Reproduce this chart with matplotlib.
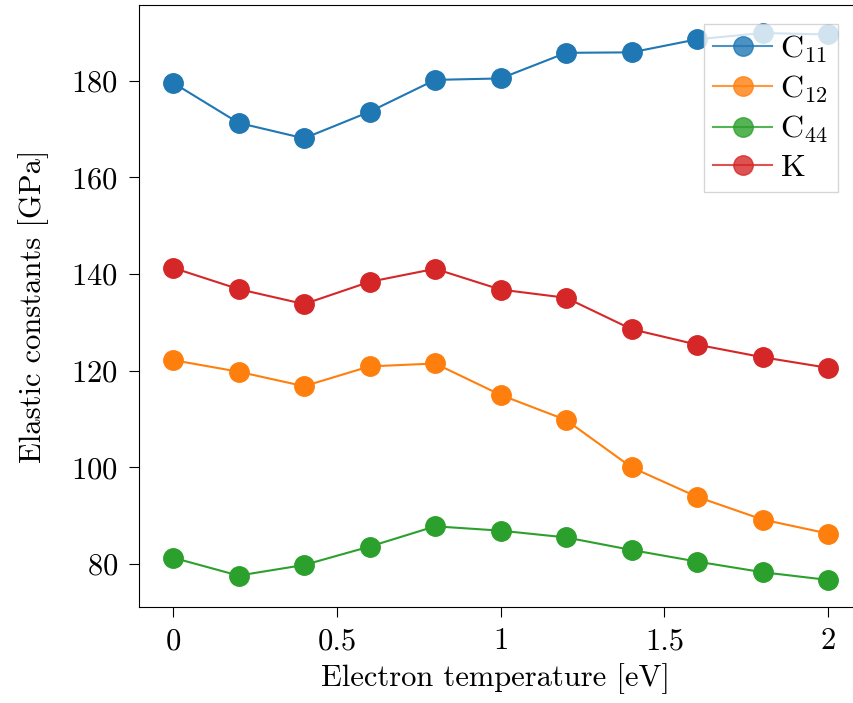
import numpy as np
import matplotlib
matplotlib.use("Agg")
import matplotlib.pyplot as plt

plt.rcParams['font.family'] = 'cmr10'
plt.rcParams['mathtext.fontset'] = 'cm'
plt.rcParams['axes.formatter.use_mathtext'] = True

# Données
temperature = [0, 0.2, 0.4, 0.6, 0.8, 1.0, 1.2, 1.4, 1.6, 1.8, 2.0]
C11 = [179.6, 171.3, 168.1, 173.6, 180.2, 180.5, 185.8, 185.9, 188.6, 189.9, 189.6]
C12 = [122.2, 119.8, 116.8, 120.9, 121.5, 115.0, 109.8, 100.0, 93.9, 89.2, 86.3]
C44 = [81.3, 77.6, 79.8, 83.6, 87.8, 86.9, 85.5, 82.9, 80.5, 78.3, 76.7]
K = [141.3, 136.9, 133.8, 138.4, 141.1, 136.8, 135.1, 128.6, 125.4, 122.8, 120.6]
labels = [r'$\mathrm{C}_{11}$', r'$\mathrm{C}_{12}$', r'$\mathrm{C}_{44}$', r'$\mathrm{K}$']

fig = plt.figure(figsize=(8.54, 7.03), dpi=100)
ax = fig.add_axes([139/854, 1-607/703, (853-139)/854, (607-5)/703])

for serie, lab in zip([C11, C12, C44, K], labels):
    ax.plot(temperature, serie, '-o', ms=14, lw=1.5, label=lab)

ax.set_xlim(-0.104, 2.076)
ax.set_ylim(71.1, 195.7)
ax.set_xticks([0, 0.5, 1, 1.5, 2])
ax.set_xticklabels(['0', '0.5', '1', '1.5', '2'])
ax.set_yticks([80, 100, 120, 140, 160, 180])
ax.tick_params(labelsize=22, direction='out', length=7, pad=8)
ax.spines['right'].set_visible(False)

ax.set_xlabel("Electron temperature [eV]", fontsize=22, labelpad=6)
ax.set_ylabel("Elastic constants [GPa]", fontsize=22, labelpad=16)

leg = ax.legend(loc='upper right', bbox_to_anchor=(838/854, 1-24/703),
                bbox_transform=fig.transFigure, borderaxespad=0,
                fontsize=23, fancybox=False, framealpha=0.8,
                handlelength=1.85, handletextpad=0.25, labelspacing=0.27,
                borderpad=0.3)
for h in leg.legend_handles:
    h.set_alpha(0.8)

fig.savefig("out.png", dpi=100)
